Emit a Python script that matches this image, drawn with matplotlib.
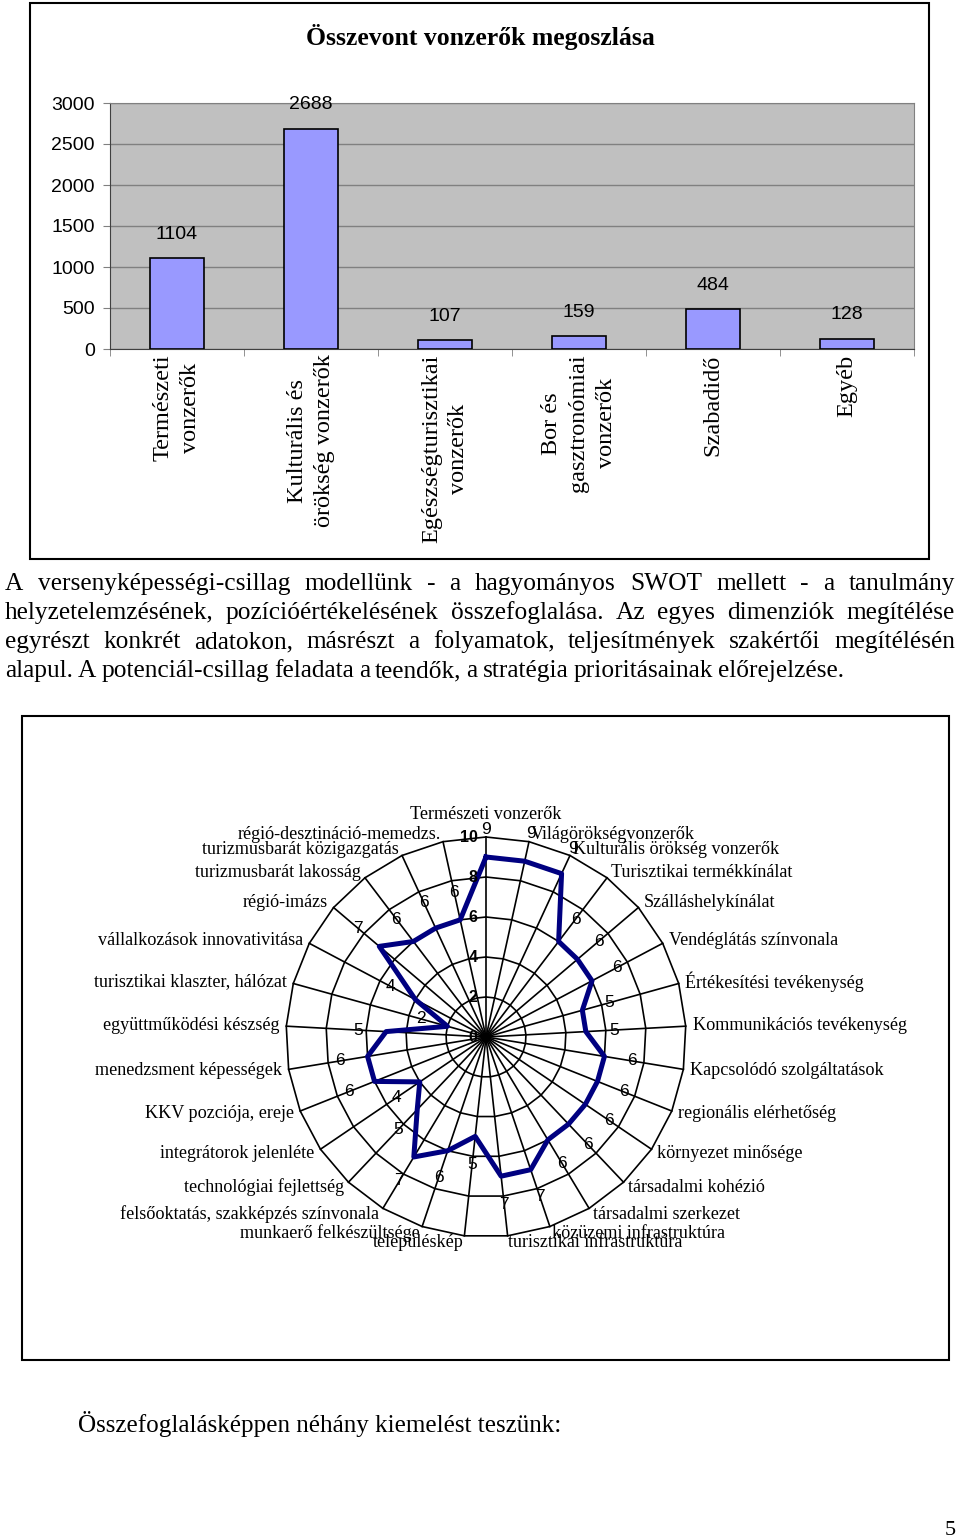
import numpy as np
import matplotlib
matplotlib.use("Agg")
import matplotlib.pyplot as plt
from matplotlib.patches import Rectangle

W, H = 960, 1537
SERIF = "Liberation Serif"
SANS = "Liberation Sans"

# --- data: bar chart
bar_labels = ["Természeti\nvonzerők", "Kulturális és\nörökség vonzerők",
              "Egészségturisztikai\nvonzerők", "Bor és\ngasztronómiai\nvonzerők",
              "Szabadidő", "Egyéb"]
bar_values = [1104, 2688, 107, 159, 484, 128]

# --- data: radar chart
radar_labels = [
    "Természeti vonzerők", "Világörökségvonzerők", "Kulturális örökség vonzerők",
    "Turisztikai termékkínálat", "Szálláshelykínálat", "Vendéglátás színvonala",
    "Értékesítési tevékenység", "Kommunikációs tevékenység", "Kapcsolódó szolgáltatások",
    "regionális elérhetőség", "környezet minősége", "társadalmi kohézió",
    "társadalmi szerkezet", "közüzemi infrastruktúra", "turisztikai infrastruktúra",
    "településkép", "munkaerő felkészültsége", "felsőoktatás, szakképzés színvonala",
    "technológiai fejlettség", "integrátorok jelenléte", "KKV pozciója, ereje",
    "menedzsment képességek", "együttműködési készség", "turisztikai klaszter, hálózat",
    "vállalkozások innovativitása", "régió-imázs", "turizmusbarát lakosság",
    "turizmusbarát közigazgatás", "régió-desztináció-memedzs.",
]
radar_values = [9, 9, 9, 6, 6, 6, 5, 5, 6, 6, 6, 6, 6, 7, 7, 5, 6, 7, 5, 4,
                6, 6, 5, 2, 4, 7, 6, 6, 6]
radar_ticks = [0, 2, 4, 6, 8, 10]

paragraph = [
    "A versenyképességi-csillag modellünk - a hagyományos SWOT mellett - a tanulmány",
    "helyzetelemzésének, pozícióértékelésének összefoglalása. Az egyes dimenziók megítélése",
    "egyrészt konkrét adatokon, másrészt a folyamatok, teljesítmények szakértői megítélésén",
    "alapul. A potenciál-csillag feladata a teendők, a stratégia prioritásainak előrejelzése.",
]
closing = "Összefoglalásképpen néhány kiemelést teszünk:"


def fx(px):
    return px / W


def fy(py):
    return 1 - py / H


fig = plt.figure(figsize=(9.6, 15.37), dpi=100)
fig.patch.set_facecolor("white")

# frames
fig.add_artist(Rectangle((fx(30), fy(559)), fx(899), 556 / H, transform=fig.transFigure,
                         fill=False, lw=1.5, ec="black"))
fig.add_artist(Rectangle((fx(22), fy(1360)), fx(927), 644 / H, transform=fig.transFigure,
                         fill=False, lw=1.5, ec="black"))

# ---------------- bar chart
fig.text(0.5, fy(37), "Összevont vonzerők megoszlása", ha="center", va="center",
         family=SERIF, weight="bold", fontsize=18.5)

ax = fig.add_axes([fx(110), fy(349), fx(804), 246 / H])
ax.set_facecolor("#C0C0C0")
x = np.arange(len(bar_values))
ax.bar(x, bar_values, width=0.41, color="#9999FF", edgecolor="black", lw=1.2, zorder=3)
for xi, v in zip(x, bar_values):
    ax.annotate(str(v), (xi, v), xytext=(0, 17), textcoords="offset points",
                ha="center", va="center", family=SANS, fontsize=14)
ax.set_xlim(-0.5, len(bar_values) - 0.5)
ax.set_ylim(0, 3000)
ax.set_yticks(np.arange(0, 3001, 500))
ax.yaxis.grid(True, color="#808080", lw=1)
ax.set_axisbelow(True)
ax.tick_params(axis="y", labelsize=14, length=5, color="#808080", pad=6)
for lab in ax.get_yticklabels():
    lab.set_family(SANS)
ax.set_xticks(x)
ax.set_xticklabels(bar_labels, rotation=90, family=SERIF, fontsize=17.5,
                   linespacing=1.4, multialignment="center")
ax.set_xticks(np.arange(-0.5, len(bar_values)), minor=True)
ax.tick_params(axis="x", which="major", length=0, pad=4)
ax.tick_params(axis="x", which="minor", length=5, color="#808080")
for s in ax.spines.values():
    s.set_color("#808080")
ax.spines["left"].set_color("#404040")
ax.spines["bottom"].set_color("#404040")

# ---------------- paragraph (justified)
renderer = fig.canvas.get_renderer()
baselines = [590, 619, 648, 677]
for i, (line, by) in enumerate(zip(paragraph, baselines)):
    words = line.split(" ")
    texts = [fig.text(0, fy(by), w, family=SERIF, fontsize=18.3, va="baseline") for w in words]
    widths = [t.get_window_extent(renderer).width for t in texts]
    if i < len(paragraph) - 1:
        gap = (955 - 5 - sum(widths)) / (len(words) - 1)
    else:
        gap = 5
    xp = 5
    for t, w in zip(texts, widths):
        t.set_x(fx(xp))
        xp += w + gap

fig.text(fx(78), fy(1432), closing, family=SERIF, fontsize=18.1, va="baseline")
fig.text(fx(956), fy(1535), "5", family=SERIF, fontsize=16, ha="right", va="baseline")

# ---------------- radar chart
cx, cy, R = 486, 1037, 200
rax = fig.add_axes([fx(cx - R), fy(cy + R), 2 * R / W, 2 * R / H], projection="polar")
rax.set_theta_zero_location("N")
rax.set_theta_direction(-1)
rax.set_ylim(0, 10)
rax.set_xticks([])
rax.set_yticks([])
rax.grid(False)
rax.spines["polar"].set_visible(False)
rax.patch.set_alpha(0)

n = len(radar_values)
theta = np.arange(n) * 2 * np.pi / n
theta_c = np.append(theta, theta[0])
for r in radar_ticks[1:]:
    rax.plot(theta_c, [r] * (n + 1), color="black", lw=1.2, clip_on=False)
for t in theta:
    rax.plot([t, t], [0, 10], color="black", lw=1.2, clip_on=False)

vals_c = np.append(radar_values, radar_values[0])
rax.plot(theta_c, vals_c, color="#000080", lw=3.6, clip_on=False, zorder=5)

for t, v in zip(theta, radar_values):
    rax.text(t, v + 1.4, str(v), ha="center", va="center", family=SANS, fontsize=12.5,
             zorder=6)

for r in radar_ticks:
    rax.annotate(str(r), (0, r), xytext=(-6, 0), textcoords="offset points",
                 ha="right", va="center", family=SANS, fontsize=11.5, weight="bold",
                 zorder=6)

for t, lab in zip(theta, radar_labels):
    s = np.sin(t)
    rr = 10.35
    if abs(s) < 0.05:
        ha, va = "center", "bottom"
        rr = 10.7
    elif s > 0:
        ha, va = "left", "center"
    else:
        ha, va = "right", "center"
    rax.text(t, rr, lab, ha=ha, va=va, family=SERIF, fontsize=13.1, zorder=6)

fig.savefig("out.png", dpi=100)
